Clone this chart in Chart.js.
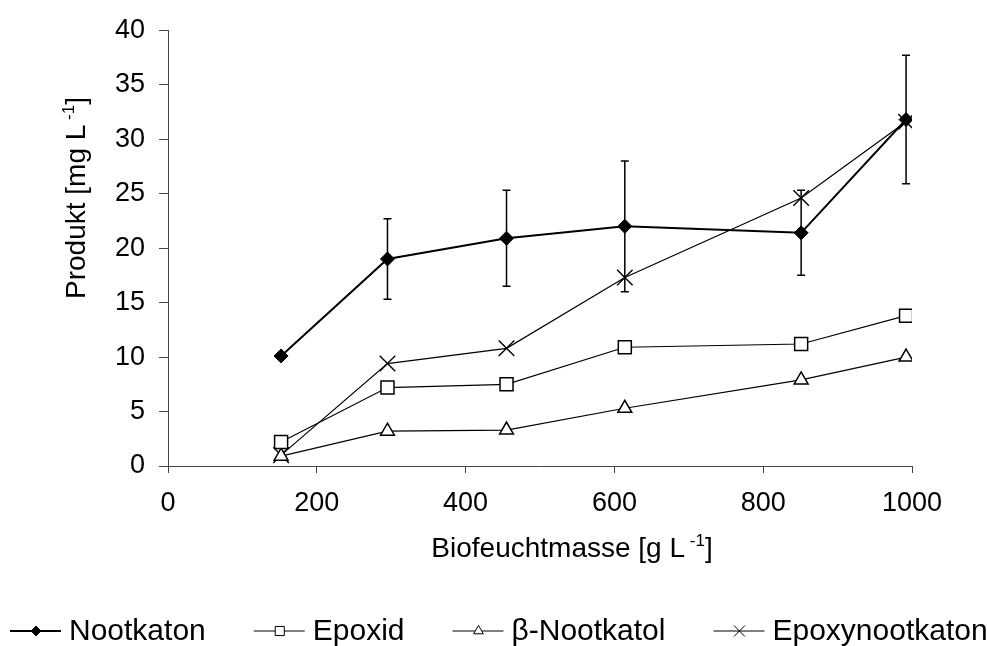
<!DOCTYPE html>
<html>
<head>
<meta charset="utf-8">
<script src="https://cdn.jsdelivr.net/npm/chart.js@4.4.0/dist/chart.umd.min.js"></script>
<style>
  html, body { margin: 0; padding: 0; background: #fff; }
  #chart { display: block; }
</style>
</head>
<body>
<canvas id="chart" width="987" height="646"></canvas>
<script>
// ---------- data ----------
const biomasse = [152, 295, 455, 614, 851, 992];
const nootkaton = [10.1, 19.0, 20.9, 22.0, 21.4, 31.8];
const nootkatonErr = [0, 3.7, 4.4, 6.0, 3.9, 5.9];
const epoxid = [2.2, 7.2, 7.5, 10.9, 11.2, 13.8];
const nootkatol = [0.9, 3.2, 3.3, 5.3, 7.9, 10.0];
const epoxynootkaton = [1.0, 9.4, 10.8, 17.3, 24.6, 31.6];

const xTicks = [0, 200, 400, 600, 800, 1000];
const yTicks = [0, 5, 10, 15, 20, 25, 30, 35, 40];

const FONT = "'Liberation Sans', Arial, sans-serif";
const AXIS_COLOR = "#444";

Chart.defaults.font.family = FONT;
Chart.defaults.color = "#000";

const punkte = (werte) => biomasse.map((x, i) => ({ x: x, y: werte[i] }));

const datasets = [
  {
    label: "Nootkaton",
    data: punkte(nootkaton),
    borderColor: "#000",
    borderWidth: 2,
    pointStyle: "rectRot",
    pointRadius: 7,
    pointBackgroundColor: "#000",
    pointBorderColor: "#000",
    pointBorderWidth: 1
  },
  {
    label: "Epoxid",
    data: punkte(epoxid),
    borderColor: "#000",
    borderWidth: 1.2,
    pointStyle: "rect",
    pointRadius: 9.2,
    pointBackgroundColor: "#fff",
    pointBorderColor: "#000",
    pointBorderWidth: 1.5
  },
  {
    label: "β-Nootkatol",
    data: punkte(nootkatol),
    borderColor: "#000",
    borderWidth: 1.2,
    pointStyle: "triangle",
    pointRadius: 8,
    pointBackgroundColor: "#fff",
    pointBorderColor: "#000",
    pointBorderWidth: 1.5
  },
  {
    label: "Epoxynootkaton",
    data: punkte(epoxynootkaton),
    borderColor: "#000",
    borderWidth: 1.2,
    pointStyle: "crossRot",
    pointRadius: 11,
    pointBackgroundColor: "#fff",
    pointBorderColor: "#000",
    pointBorderWidth: 1.4
  }
];

// text with a superscript part, drawn left to right from (x, y) on the baseline
function textBreite(ctx, teile) {
  let w = 0;
  teile.forEach((t) => {
    ctx.font = t.sup ? "17px " + FONT : "28px " + FONT;
    w += ctx.measureText(t.text).width;
  });
  return w;
}

function zeichneText(ctx, teile, x, y) {
  ctx.textBaseline = "alphabetic";
  ctx.textAlign = "left";
  teile.forEach((t) => {
    ctx.font = t.sup ? "17px " + FONT : "28px " + FONT;
    ctx.fillText(t.text, x, t.sup ? y - 11 : y);
    x += ctx.measureText(t.text).width;
  });
}

// ===================== Fehlerbalken =====================
const fehlerbalken = {
  id: "fehlerbalken",
  beforeDatasetsDraw(chart) {
    const { ctx, scales } = chart;
    ctx.save();
    ctx.strokeStyle = "#000";
    ctx.lineWidth = 1.5;
    nootkatonErr.forEach((e, i) => {
      if (!e) return;
      const px = scales.x.getPixelForValue(biomasse[i]);
      const top = scales.y.getPixelForValue(nootkaton[i] + e);
      const bot = scales.y.getPixelForValue(nootkaton[i] - e);
      ctx.beginPath();
      ctx.moveTo(px, top);
      ctx.lineTo(px, bot);
      ctx.moveTo(px - 4, top);
      ctx.lineTo(px + 4, top);
      ctx.moveTo(px - 4, bot);
      ctx.lineTo(px + 4, bot);
      ctx.stroke();
    });
    ctx.restore();
  }
};

// ===================== Achsentitel + Legende =====================
const beschriftung = {
  id: "beschriftung",
  afterDraw(chart) {
    const ctx = chart.ctx;
    ctx.save();
    ctx.fillStyle = "#000";

    // x-Achsentitel
    const xTitel = [
      { text: "Biofeuchtmasse [g L" },
      { text: " -1", sup: true },
      { text: "]" }
    ];
    const wx = textBreite(ctx, xTitel);
    zeichneText(ctx, xTitel, 572 - wx / 2, 557);

    // y-Achsentitel (gedreht)
    const yTitel = [
      { text: "Produkt [mg L" },
      { text: " -1", sup: true },
      { text: "]" }
    ];
    const wy = textBreite(ctx, yTitel);
    ctx.save();
    ctx.translate(85, 198);
    ctx.rotate(-Math.PI / 2);
    zeichneText(ctx, yTitel, -wy / 2, 0);
    ctx.restore();

    // Legende
    ctx.textBaseline = "alphabetic";
    let x = 10;
    const yLinie = 631;
    chart.data.datasets.forEach((ds, i) => {
      ctx.strokeStyle = "#000";
      ctx.lineWidth = i === 0 ? 2 : 1;
      ctx.beginPath();
      ctx.moveTo(x, yLinie);
      ctx.lineTo(x + 51, yLinie);
      ctx.stroke();
      ctx.fillStyle = ds.pointBackgroundColor;
      ctx.lineWidth = 1;
      Chart.helpers.drawPoint(ctx, {
        pointStyle: ds.pointStyle,
        radius: ds.pointRadius * 0.7,
        rotation: 0,
        borderWidth: 1
      }, x + 26, yLinie);
      ctx.fillStyle = "#000";
      ctx.font = "30px " + FONT;
      ctx.fillText(ds.label, x + 59, 640);
      x += 59 + ctx.measureText(ds.label).width + 48;
    });
    ctx.restore();
  }
};

new Chart(document.getElementById("chart"), {
  type: "line",
  data: { datasets },
  options: {
    responsive: false,
    animation: false,
    layout: { padding: { top: 24, right: 75, left: 0, bottom: 0 } },
    plugins: {
      legend: { display: false },
      tooltip: { enabled: false }
    },
    scales: {
      x: {
        type: "linear",
        min: 0,
        max: 1000,
        afterBuildTicks: (s) => { s.ticks = xTicks.map((v) => ({ value: v })); },
        afterFit: (s) => { s.height = 180; },
        grid: { drawOnChartArea: false, drawTicks: true, tickLength: 7, color: AXIS_COLOR },
        border: { display: true, color: AXIS_COLOR, width: 1 },
        ticks: {
          font: { size: 27 },
          padding: 14,
          color: "#000",
          maxRotation: 0,
          callback: (v) => String(v)
        }
      },
      y: {
        type: "linear",
        min: 0,
        max: 40,
        afterBuildTicks: (s) => { s.ticks = yTicks.map((v) => ({ value: v })); },
        afterFit: (s) => { s.width = 168; },
        grid: { drawOnChartArea: false, drawTicks: true, tickLength: 9, color: AXIS_COLOR },
        border: { display: true, color: AXIS_COLOR, width: 1 },
        ticks: { font: { size: 27 }, padding: 14, color: "#000", callback: (v) => String(v) }
      }
    }
  },
  plugins: [fehlerbalken, beschriftung]
});
</script>
</body>
</html>
